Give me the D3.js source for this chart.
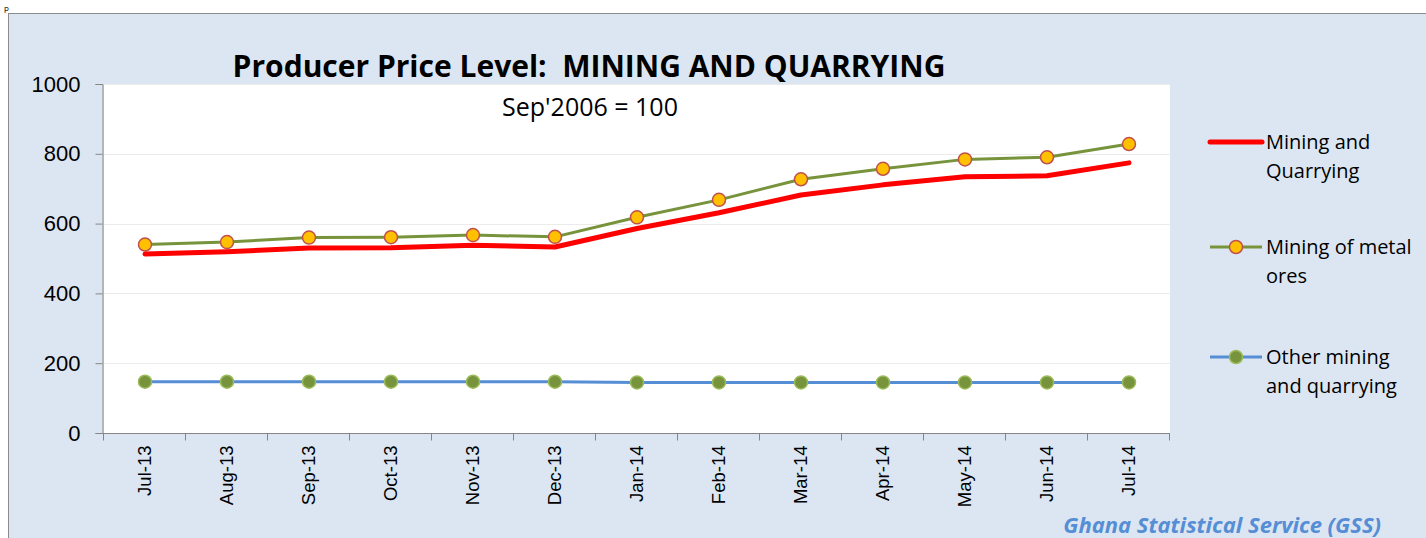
<!DOCTYPE html>
<meta charset="utf-8">
<style>
body { margin: 0; overflow: hidden; background: #fff; }
text { font-family: "Open Sans", Lato, sans-serif; }
.axis text { font-family: "Liberation Sans", Arial, sans-serif; fill: #000; }
.axis path, .axis line { stroke: #868686; }
</style>
<div id="chart"></div>
<script src="https://cdn.jsdelivr.net/npm/d3@7"></script>
<script>

var W = 1426, H = 538;

// data
var months = ["Jul-13","Aug-13","Sep-13","Oct-13","Nov-13","Dec-13","Jan-14","Feb-14","Mar-14","Apr-14","May-14","Jun-14","Jul-14"];
var miningQuarrying = [513, 519, 530, 531, 538, 533, 586, 631, 682, 711, 734, 737, 774];
var metalOres       = [540, 547, 560, 561, 567, 562, 618, 668, 727, 757, 784, 790, 828];
var otherMining     = [147, 147, 147, 147, 147, 147, 145, 145, 145, 145, 145, 145, 145];
var yTicks = [0, 200, 400, 600, 800, 1000];

var series = [
  {name: ["Mining and", "Quarrying"], values: miningQuarrying, color: "#ff0000", width: 5, marker: null},
  {name: ["Mining of metal", "ores"], values: metalOres, color: "#77933c", width: 3, marker: {fill: "#ffc000", stroke: "#c0504d"}},
  {name: ["Other mining", "and quarrying"], values: otherMining, color: "#558ed5", width: 3, marker: {fill: "#77933c", stroke: "#9bbb59"}}
];

var svg = d3.select("#chart").append("svg")
    .attr("width", W)
    .attr("height", H);

// stray fragment at the top left
svg.append("text").attr("x", 4).attr("y", 11).style("font-size", "8px").text("p");

// outer panel
svg.append("rect")
    .attr("x", 8.5).attr("y", 13.5)
    .attr("width", W).attr("height", H)
    .attr("fill", "#dce6f2")
    .attr("stroke", "#8c8c8c");

var x = d3.scaleBand().domain(months).range([104, 1170]).padding(0);
var y = d3.scaleLinear().domain([0, 1000]).range([433, 84]);
var cx = (m) => x(m) + x.bandwidth() / 2;

// plot area
svg.append("rect")
    .attr("x", 104).attr("y", y(1000))
    .attr("width", 1066).attr("height", y(0) - y(1000))
    .attr("fill", "#fff");

// gridlines
svg.append("g").selectAll("line").data(yTicks.filter((d) => d > 0)).enter().append("line")
    .attr("x1", 104).attr("x2", 1170)
    .attr("y1", (d) => Math.round(y(d)) + 0.5).attr("y2", (d) => Math.round(y(d)) + 0.5)
    .attr("stroke", "#ebebeb");

// y axis
var yAxis = svg.append("g").attr("class", "axis")
    .attr("transform", "translate(102.5,0)")
    .call(d3.axisLeft(y).tickValues(yTicks).tickFormat(d3.format("d")).tickSize(7).tickPadding(15));
yAxis.selectAll("text").style("font-size", "22px");

// x axis: labels centred in the bands, ticks on band edges
var xAxis = svg.append("g").attr("class", "axis")
    .attr("transform", "translate(0,433.5)")
    .call(d3.axisBottom(x).tickSize(0).tickSizeOuter(0));
xAxis.select(".domain").attr("d", "M102,0H1170");
xAxis.selectAll("text")
    .style("font-size", "18.5px")
    .attr("text-anchor", "end")
    .attr("transform", "rotate(-90)")
    .attr("x", -12).attr("y", 0).attr("dy", "0.35em");
xAxis.selectAll("line.edge").data(months.concat(["end"])).enter().append("line")
    .attr("class", "edge")
    .attr("x1", (d) => Math.round(d == "end" ? x.range()[1] : x(d)) - 0.5)
    .attr("x2", (d) => Math.round(d == "end" ? x.range()[1] : x(d)) - 0.5)
    .attr("y1", 0).attr("y2", 7);

// lines and markers
var line = d3.line().x((d, i) => cx(months[i])).y((d) => y(d));

series.slice().reverse().forEach(function(s) {
  svg.append("path")
      .datum(s.values)
      .attr("d", line)
      .attr("fill", "none")
      .attr("stroke", s.color)
      .attr("stroke-width", s.width)
      .attr("stroke-linecap", "round")
      .attr("stroke-linejoin", "round");
  if (s.marker) {
    svg.append("g").selectAll("circle").data(s.values).enter().append("circle")
        .attr("cx", (d, i) => cx(months[i]))
        .attr("cy", (d) => y(d))
        .attr("r", 6.5)
        .attr("fill", s.marker.fill)
        .attr("stroke", s.marker.stroke)
        .attr("stroke-width", 1.5);
  }
});

// titles
svg.append("text")
    .attr("x", 589).attr("y", 77)
    .attr("text-anchor", "middle")
    .style("white-space", "pre")
    .style("font-size", "30px").style("font-weight", "bold")
    .text("Producer Price Level:  MINING AND QUARRYING");
svg.append("text")
    .attr("x", 590).attr("y", 116)
    .attr("text-anchor", "middle")
    .style("font-size", "25px")
    .text("Sep'2006 = 100");

// legend
var legendY = [142, 247, 357];
series.forEach(function(s, i) {
  var g = svg.append("g").attr("transform", `translate(1210,${legendY[i]})`);
  g.append("line").attr("x1", 0).attr("x2", 52).attr("y1", 0).attr("y2", 0)
      .attr("stroke", s.color).attr("stroke-width", s.width)
      .attr("stroke-linecap", s.marker ? "butt" : "round");
  if (s.marker)
    g.append("circle").attr("cx", 26).attr("cy", 0).attr("r", 6.5)
        .attr("fill", s.marker.fill).attr("stroke", s.marker.stroke).attr("stroke-width", 1.5);
  g.selectAll("text.lbl").data(s.name).enter().append("text")
      .attr("class", "lbl")
      .attr("x", 56).attr("y", (d, j) => j * 29 + 7)
      .style("font-size", "20px")
      .text((d) => d);
});

// source
svg.append("text")
    .attr("x", 1381).attr("y", 533)
    .attr("text-anchor", "end")
    .style("font-size", "22px").style("font-weight", "bold").style("font-style", "italic")
    .attr("fill", "#558ed5")
    .text("Ghana Statistical Service (GSS)");

</script>
